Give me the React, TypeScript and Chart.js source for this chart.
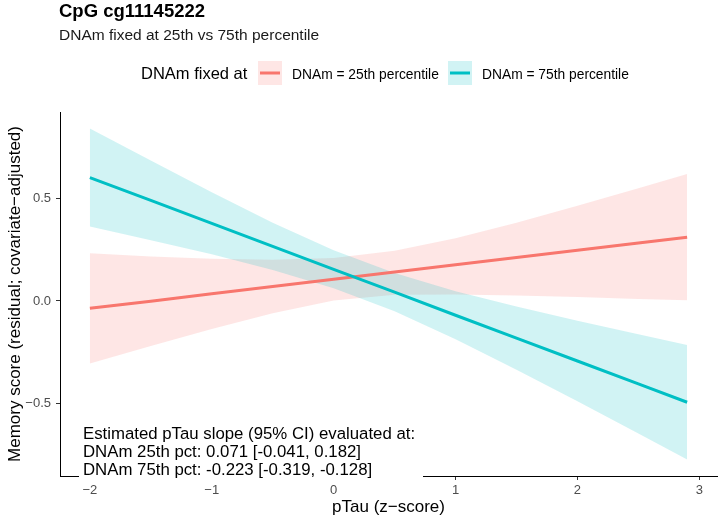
import React, { useEffect, useRef } from 'react';
import { Chart, registerables } from 'chart.js';

Chart.register(...registerables);

// pTau grid (z-score) and model predictions with 95% bands
const pTau = [-2, -1.5, -1, -0.5, 0, 0.5, 1, 1.5, 2, 2.5, 2.9];

const fit25 = [-0.036, -0.001, 0.035, 0.071, 0.106, 0.142, 0.177, 0.213, 0.248, 0.284, 0.312];
const lower25 = [-0.306, -0.22, -0.137, -0.06, 0.002, 0.03, 0.032, 0.027, 0.019, 0.01, 0.004];
const upper25 = [0.234, 0.218, 0.207, 0.202, 0.21, 0.246, 0.307, 0.383, 0.466, 0.552, 0.622];

const fit75 = [0.604, 0.492, 0.38, 0.267, 0.155, 0.043, -0.07, -0.182, -0.294, -0.406, -0.496];
const lower75 = [0.364, 0.297, 0.228, 0.151, 0.062, -0.051, -0.188, -0.337, -0.491, -0.649, -0.776];
const upper75 = [0.844, 0.687, 0.532, 0.383, 0.248, 0.137, 0.048, -0.027, -0.097, -0.163, -0.216];

const TITLE = 'CpG cg11145222';
const SUBTITLE = 'DNAm fixed at 25th vs 75th percentile';
const LEGEND_TITLE = 'DNAm fixed at';
const LEGEND_LABELS = ['DNAm = 25th percentile', 'DNAm = 75th percentile'];
const NOTE_LINES = [
  'Estimated pTau slope (95% CI) evaluated at:',
  'DNAm 25th pct: 0.071 [-0.041, 0.182]',
  'DNAm 75th pct: -0.223 [-0.319, -0.128]',
];
const X_TITLE = 'pTau (z\u2212score)';
const Y_TITLE = 'Memory score (residual; covariate\u2212adjusted)';

const FONT = '"Liberation Sans", Arial, Helvetica, sans-serif';
const RED = '#F8766D';
const TEAL = '#00BFC4';
const RED_FILL = 'rgba(248,118,109,0.18)';
const TEAL_FILL = 'rgba(0,191,196,0.18)';
const NONE = 'rgba(0,0,0,0)';

const pts = (ys: number[]) => pTau.map((x, i) => ({ x, y: ys[i] }));

const fmt = (v: number, digits: number) => {
  const s = Math.abs(v).toFixed(digits);
  return v < -1e-9 ? '\u2212' + s : s;
};

// Titles, legend and the slope note drawn around the plot panel
const decorations = {
  id: 'decorations',
  afterDraw(chart: any) {
    const ctx: CanvasRenderingContext2D = chart.ctx;
    ctx.save();
    ctx.textAlign = 'left';
    ctx.textBaseline = 'alphabetic';

    ctx.fillStyle = '#000';
    ctx.font = `bold 18.5px ${FONT}`;
    ctx.fillText(TITLE, 59, 17);

    ctx.fillStyle = '#1a1a1a';
    ctx.font = `15.5px ${FONT}`;
    ctx.fillText(SUBTITLE, 59, 39.5);

    // legend
    ctx.fillStyle = '#000';
    ctx.font = `16.5px ${FONT}`;
    ctx.fillText(LEGEND_TITLE, 141, 79);

    const keys = [
      { x: 258, line: RED, fill: RED_FILL, label: LEGEND_LABELS[0], tx: 292 },
      { x: 448, line: TEAL, fill: TEAL_FILL, label: LEGEND_LABELS[1], tx: 482 },
    ];
    for (const k of keys) {
      ctx.fillStyle = k.fill;
      ctx.fillRect(k.x, 61, 24, 24);
      ctx.strokeStyle = k.line;
      ctx.lineWidth = 3;
      ctx.beginPath();
      ctx.moveTo(k.x + 2, 73);
      ctx.lineTo(k.x + 22, 73);
      ctx.stroke();
      ctx.fillStyle = '#000';
      ctx.font = `13.8px ${FONT}`;
      ctx.fillText(k.label, k.tx, 78.5);
    }

    // slope note with white label background
    ctx.fillStyle = '#fff';
    ctx.fillRect(79, 421, 344, 61);
    ctx.fillStyle = '#000';
    ctx.font = `16.8px ${FONT}`;
    ctx.textBaseline = 'middle';
    const ys = [434, 452, 470];
    NOTE_LINES.forEach((t, i) => ctx.fillText(t, 83, ys[i]));

    ctx.restore();
  },
};

const axisCommon = {
  grid: {
    display: true,
    drawOnChartArea: false,
    drawTicks: true,
    tickLength: 4,
    tickWidth: 1,
    color: '#333333',
  },
  border: { display: true, color: '#000000', width: 1 },
};

export default function App() {
  const ref = useRef<HTMLCanvasElement>(null);

  useEffect(() => {
    if (!ref.current) return;
    const chart = new Chart(ref.current, {
      type: 'line',
      data: {
        datasets: [
          { label: 'lower25', data: pts(lower25), borderColor: NONE, borderWidth: 0, pointRadius: 0, fill: false, order: 3 },
          { label: 'upper25', data: pts(upper25), borderColor: NONE, borderWidth: 0, pointRadius: 0, backgroundColor: RED_FILL, fill: '-1', order: 3 },
          { label: 'lower75', data: pts(lower75), borderColor: NONE, borderWidth: 0, pointRadius: 0, fill: false, order: 2 },
          { label: 'upper75', data: pts(upper75), borderColor: NONE, borderWidth: 0, pointRadius: 0, backgroundColor: TEAL_FILL, fill: '-1', order: 2 },
          { label: LEGEND_LABELS[0], data: pts(fit25), borderColor: RED, borderWidth: 3, pointRadius: 0, fill: false, order: 1 },
          { label: LEGEND_LABELS[1], data: pts(fit75), borderColor: TEAL, borderWidth: 3, pointRadius: 0, fill: false, order: 0 },
        ],
      } as any,
      options: {
        responsive: false,
        animation: false,
        layout: { padding: { top: 112, right: 3, bottom: 0, left: 0 } },
        elements: { line: { tension: 0, borderCapStyle: 'butt' } },
        plugins: {
          legend: { display: false },
          tooltip: { enabled: false },
          title: { display: false },
        },
        scales: {
          x: {
            type: 'linear',
            min: -2.245,
            max: 3.145,
            afterFit: (s: any) => {
              s.height = 43;
            },
            ticks: {
              stepSize: 1,
              includeBounds: false,
              autoSkip: false,
              maxRotation: 0,
              padding: 3,
              color: '#4D4D4D',
              font: { family: FONT, size: 13 },
              callback: (v: any) => fmt(Number(v), 0),
            },
            title: {
              display: true,
              text: X_TITLE,
              color: '#000',
              font: { family: FONT, size: 17, lineHeight: 1.2 },
              padding: { top: 0, bottom: 1 },
            },
            ...axisCommon,
          },
          y: {
            type: 'linear',
            min: -0.857,
            max: 0.925,
            afterFit: (s: any) => {
              s.width = 60;
            },
            ticks: {
              stepSize: 0.5,
              includeBounds: false,
              padding: 5,
              color: '#4D4D4D',
              font: { family: FONT, size: 13 },
              callback: (v: any) => fmt(Number(v), 1),
            },
            title: {
              display: true,
              text: Y_TITLE,
              color: '#000',
              font: { family: FONT, size: 17, lineHeight: 1.2 },
              padding: { top: 5, bottom: 0 },
            },
            ...axisCommon,
          },
        },
      } as any,
      plugins: [decorations],
    });
    return () => chart.destroy();
  }, []);

  return (
    <div style={{ position: 'absolute', left: 0, top: 0, width: 720, height: 519, background: '#fff' }}>
      <canvas ref={ref} width={720} height={519} style={{ display: 'block', width: 720, height: 519 }} />
    </div>
  );
}
